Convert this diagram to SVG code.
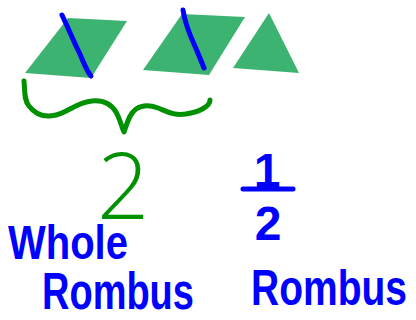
<svg xmlns="http://www.w3.org/2000/svg" width="416" height="320" viewBox="0 0 416 320">
<style>
.shape{fill:#3cb371;}
.pen{fill:none;stroke-linecap:round;stroke-linejoin:round;}
.blue{stroke:#0000ff;stroke-width:5;}
.green{stroke:#009100;stroke-width:5;}
.hand{font-family:"Liberation Sans",Arial,sans-serif;font-weight:bold;fill:#0000ff;}
</style>
<rect width="416" height="320" fill="#ffffff"/>
<g id="rhombus1">
<polygon class="shape" points="25,73 68,18 127,21 91,78"/>
<path class="pen blue" d="M62,15 C70,32 74,42 79,52 C84,63 86,70 91,76"/>
</g>
<g id="rhombus2">
<polygon class="shape" points="143,70 182,14 245,17 209,75"/>
<path class="pen blue" d="M183,10 C185,24 189,33 194,44 C199,55 201,61 204,68"/>
</g>
<g id="triangle">
<polygon class="shape" points="269,13 299,73 233,68"/>
</g>
<g id="brace">
<path class="pen green" d="M24,81 C25,92 24,100 29,106 C35,114 44,118 56,115 C68,112 78,102 92,101 C104,100 111,104 116,112 C120,119 122,128 124,132 C127,124 129,114 136,109 C142,105 150,105 158,108 C166,111 174,116 186,114 C200,112 210,106 210,100"/>
</g>
<g id="two">
<text x="97" y="219" font-family="'Open Sans','Liberation Sans',sans-serif" font-weight="340" font-size="92" fill="#009100">2</text>
</g>
<g id="half">
<text class="hand" x="267" y="187" font-size="48" text-anchor="middle">1</text>
<line class="pen blue" x1="243" y1="189" x2="293" y2="189"/>
<text class="hand" x="268" y="240" font-size="48" text-anchor="middle">2</text>
</g>
<g id="labels">
<text class="hand" transform="translate(8,259) scale(1,1.2)" font-size="40">Whole</text>
<text class="hand" transform="translate(42,309) scale(1,1.35)" font-size="38">Rombus</text>
<text class="hand" transform="translate(251,305) scale(1,1.3)" font-size="39">Rombus</text>
</g>
</svg>
